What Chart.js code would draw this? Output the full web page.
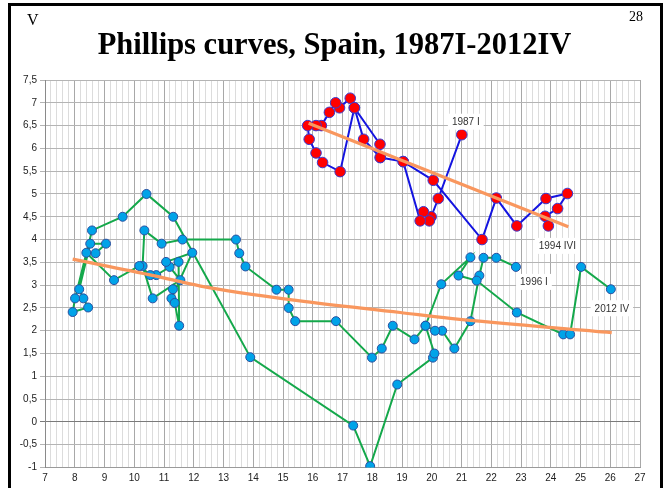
<!DOCTYPE html>
<html>
<head>
<meta charset="utf-8">
<script src="https://cdn.jsdelivr.net/npm/chart.js@4.4.1/dist/chart.umd.min.js"></script>
<style>
html,body{margin:0;padding:0;background:#fff;}
#wrap{position:relative;width:665px;height:488px;overflow:hidden;background:#fff;}
#c{position:absolute;left:0;top:0;}
#frame{position:absolute;left:8px;top:3px;width:655px;height:530px;box-sizing:border-box;border:3px solid #000;pointer-events:none;}
#title{position:absolute;left:2px;width:665px;top:29px;text-align:center;font-family:"Liberation Serif","Times New Roman",serif;font-weight:bold;font-size:30.5px;line-height:30.5px;color:#000;white-space:nowrap;}
#tl{position:absolute;left:27px;top:12px;font-family:"Liberation Serif",serif;font-size:16px;line-height:16px;color:#000;}
#tr{position:absolute;left:629px;top:10px;font-family:"Liberation Serif",serif;font-size:14px;line-height:14px;color:#000;}
</style>
</head>
<body>
<div id="wrap">
  <canvas id="c" width="665" height="488"></canvas>
  <div id="title">Phillips curves, Spain, 1987I-2012IV</div>
  <div id="tl">V</div>
  <div id="tr">28</div>
  <div id="frame"></div>
</div>
<script>
// Series 1987 I – 1994 IV : unemployment rate (x) and inflation (y)
const redU  = [21.01,20.22,19.98,19.72,19.92,19.61,19.04,18.27,18.26,17.40,17.26,16.90,16.77,16.56,16.29,16.11,15.83,15.88,16.11,16.33,16.92,17.40,17.71,18.27,19.04,20.05,21.69,22.17,22.86,23.84,24.56,24.23,23.81,23.92];
const redPi = [6.30,4.90,4.50,4.61,4.41,4.41,5.71,5.80,6.09,6.89,7.10,6.89,7.00,6.79,6.50,6.50,6.50,6.20,5.90,5.69,5.49,6.89,6.20,5.80,5.71,5.30,4.00,4.91,4.30,4.90,5.01,4.68,4.51,4.30];

// Series 1996 I – 2012 IV
const greenU  = [22.83,22.17,21.74,21.60,21.30,20.76,20.35,20.11,19.79,19.42,18.69,18.32,17.99,16.78,15.41,15.19,15.19,14.78,13.74,13.53,13.42,11.62,10.92,10.34,10.28,10.62,11.55,11.19,11.07,11.95,11.25,11.30,11.36,11.51,11.49,10.74,10.54,10.17,9.32,8.39,8.70,9.05,8.52,8.15,8.29,8.45,7.93,8.01,8.58,9.61,10.41,11.31,13.90,17.36,17.93,18.84,20.04,20.09,19.79,20.32,21.30,20.90,21.51,22.86,24.42,24.65,25.02,26.02];
const greenPi = [3.40,3.60,3.60,3.21,2.21,1.61,2.00,2.00,2.11,1.81,2.11,1.61,1.41,2.21,2.21,2.50,2.90,2.90,3.41,3.70,4.00,4.00,3.91,4.20,3.42,2.71,3.11,3.40,3.51,3.71,2.71,2.91,2.61,2.11,3.51,3.22,3.22,3.42,3.11,3.71,3.70,3.91,3.91,2.91,2.71,2.51,2.41,2.71,4.20,4.50,5.00,4.50,1.42,-0.08,-0.97,0.82,1.41,1.50,2.11,3.02,3.61,3.21,3.10,2.40,1.92,1.92,3.40,2.91];

// Trend lines
const redTrendU  = [15.86, 24.59];
const redTrendPi = [6.55, 4.28];
const greenTrendU  = [7.93, 10.65, 12.23, 15.50, 18.94, 20.62, 26.05];
const greenTrendPi = [3.57, 3.21, 2.98, 2.66, 2.40, 2.27, 1.96];

// Point labels
const labelTexts = ['1987 I', '1994 IVI', '1996 I', '2012 IV'];

// Axis ranges
const xMin = 7, xMax = 27, xMinorStep = 0.2;
const yMin = -1, yMax = 7.5, yStep = 0.5;

const toXY = (xs, ys) => xs.map((v, i) => ({x: v, y: ys[i]}));
const isInt = v => Math.abs(v - Math.round(v)) < 1e-6;

const labelPlugin = {
  id: 'pointLabels',
  afterDatasetsDraw(chart) {
    const ctx = chart.ctx;
    const xs = chart.scales.x, ys = chart.scales.y;
    const anchors = [
      [redU[0], redPi[0], 4, -13],
      [redU[redU.length-1], redPi[redPi.length-1], 9, 20],
      [greenU[0], greenPi[0], 18, 15],
      [greenU[greenU.length-1], greenPi[greenPi.length-1], 1, 19]
    ];
    ctx.save();
    ctx.font = '10px "Liberation Sans", Arial, sans-serif';
    ctx.textAlign = 'center';
    ctx.textBaseline = 'middle';
    labelTexts.forEach((t, i) => {
      const a = anchors[i];
      const cx = xs.getPixelForValue(a[0]) + a[2];
      const cy = ys.getPixelForValue(a[1]) + a[3];
      const w = ctx.measureText(t).width + 8;
      ctx.fillStyle = '#ffffff';
      ctx.fillRect(cx - w/2, cy - 8, w, 16);
      ctx.fillStyle = '#333333';
      ctx.fillText(t, cx, cy + 0.5);
    });
    ctx.restore();
  }
};

new Chart(document.getElementById('c'), {
  type: 'scatter',
  data: {
    datasets: [
      {
        label: 'trend 1987-1994',
        data: toXY(redTrendU, redTrendPi),
        showLine: true, borderColor: '#F9975E', borderWidth: 3.2,
        pointRadius: 0, order: 1
      },
      {
        label: 'trend 1996-2012',
        data: toXY(greenTrendU, greenTrendPi),
        showLine: true, borderColor: '#F9975E', borderWidth: 3.2,
        cubicInterpolationMode: 'monotone',
        pointRadius: 0, order: 1
      },
      {
        label: '1987I-1994IV',
        data: toXY(redU, redPi),
        showLine: true, borderColor: '#1414E0', borderWidth: 2,
        pointRadius: 5.3, pointBackgroundColor: '#FF0000',
        pointBorderColor: '#3A3AD0', pointBorderWidth: 1, order: 2
      },
      {
        label: '1996I-2012IV',
        data: toXY(greenU, greenPi),
        showLine: true, borderColor: '#14A84B', borderWidth: 2,
        pointRadius: 4.5, pointBackgroundColor: '#00A3E8',
        pointBorderColor: '#2A4FA0', pointBorderWidth: 1, order: 3
      }
    ]
  },
  options: {
    responsive: false,
    animation: false,
    devicePixelRatio: 1,
    layout: {padding: {top: 80, right: 25, left: 0, bottom: 0}},
    plugins: {legend: {display: false}, tooltip: {enabled: false}, title: {display: false}},
    scales: {
      x: {
        type: 'linear', min: xMin, max: xMax,
        afterBuildTicks: (s) => {
          const t = [];
          const n = Math.round((xMax - xMin) / xMinorStep);
          for (let i = 0; i <= n; i++) t.push({value: Math.round((xMin + i * xMinorStep) * 10) / 10});
          s.ticks = t;
        },
        afterFit: (s) => { s.height = 20.5; },
        ticks: {
          autoSkip: false, maxRotation: 0, padding: 5,
          color: '#222',
          font: {family: '"Liberation Sans", Arial, sans-serif', size: 10},
          callback: (v) => isInt(v) ? String(Math.round(v)) : ''
        },
        grid: {
          drawTicks: false,
          lineWidth: 1,
          color: (c) => (c.tick && isInt(c.tick.value)) ? '#a8a8a8' : '#dcdcdc'
        },
        border: {display: true, color: '#9a9a9a'}
      },
      y: {
        type: 'linear', min: yMin, max: yMax,
        ticks: {
          stepSize: yStep, padding: 3, color: '#222',
          font: {family: '"Liberation Sans", Arial, sans-serif', size: 10},
          callback: (v) => String(v).replace('.', ',')
        },
        afterFit: (s) => { s.width = 45; },
        grid: {
          tickLength: 5, lineWidth: 1,
          color: (c) => (c.tick && c.tick.value === 0) ? '#7a7a7a' : '#b4b4b4'
        },
        border: {display: true, color: '#8a8a8a'}
      }
    }
  },
  plugins: [labelPlugin]
});
</script>
</body>
</html>
